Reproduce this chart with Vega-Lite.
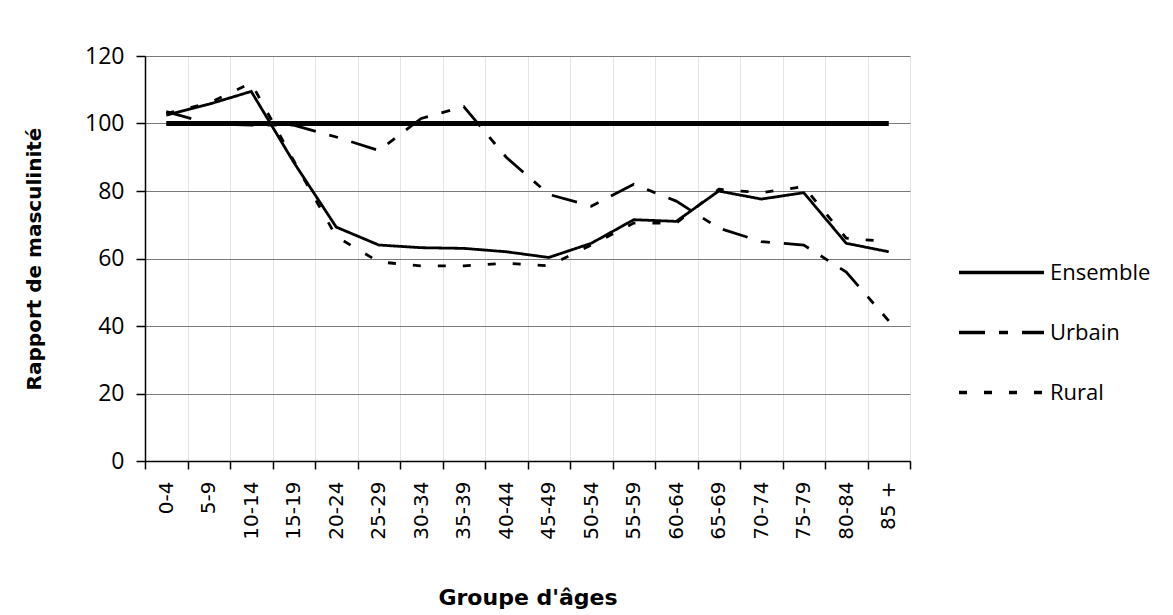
{
  "$schema": "https://vega.github.io/schema/vega-lite/v6.json",
  "width": 765,
  "height": 405,
  "autosize": {"type": "none"},
  "padding": {"left": 145, "top": 56, "right": 263, "bottom": 154},
  "background": "white",
  "config": {"view": {"stroke": null}, "font": "DejaVu Sans"},
  "datasets": {
    "ref": [
      {"age": "0-4", "value": 100}, {"age": "5-9", "value": 100}, {"age": "10-14", "value": 100},
      {"age": "15-19", "value": 100}, {"age": "20-24", "value": 100}, {"age": "25-29", "value": 100},
      {"age": "30-34", "value": 100}, {"age": "35-39", "value": 100}, {"age": "40-44", "value": 100},
      {"age": "45-49", "value": 100}, {"age": "50-54", "value": 100}, {"age": "55-59", "value": 100},
      {"age": "60-64", "value": 100}, {"age": "65-69", "value": 100}, {"age": "70-74", "value": 100},
      {"age": "75-79", "value": 100}, {"age": "80-84", "value": 100}, {"age": "85 +", "value": 100}
    ],
    "series": [
      {"age": "0-4", "serie": "Ensemble", "value": 102.5},
      {"age": "5-9", "serie": "Ensemble", "value": 105.7},
      {"age": "10-14", "serie": "Ensemble", "value": 109.5},
      {"age": "15-19", "serie": "Ensemble", "value": 88.5},
      {"age": "20-24", "serie": "Ensemble", "value": 69.3},
      {"age": "25-29", "serie": "Ensemble", "value": 64},
      {"age": "30-34", "serie": "Ensemble", "value": 63.2},
      {"age": "35-39", "serie": "Ensemble", "value": 63},
      {"age": "40-44", "serie": "Ensemble", "value": 62},
      {"age": "45-49", "serie": "Ensemble", "value": 60.3},
      {"age": "50-54", "serie": "Ensemble", "value": 64.5},
      {"age": "55-59", "serie": "Ensemble", "value": 71.5},
      {"age": "60-64", "serie": "Ensemble", "value": 71},
      {"age": "65-69", "serie": "Ensemble", "value": 80},
      {"age": "70-74", "serie": "Ensemble", "value": 77.6},
      {"age": "75-79", "serie": "Ensemble", "value": 79.5},
      {"age": "80-84", "serie": "Ensemble", "value": 64.5},
      {"age": "85 +", "serie": "Ensemble", "value": 62},
      {"age": "0-4", "serie": "Urbain", "value": 103.5},
      {"age": "5-9", "serie": "Urbain", "value": 100},
      {"age": "10-14", "serie": "Urbain", "value": 99.5},
      {"age": "15-19", "serie": "Urbain", "value": 99.5},
      {"age": "20-24", "serie": "Urbain", "value": 96},
      {"age": "25-29", "serie": "Urbain", "value": 92},
      {"age": "30-34", "serie": "Urbain", "value": 101.5},
      {"age": "35-39", "serie": "Urbain", "value": 105},
      {"age": "40-44", "serie": "Urbain", "value": 90},
      {"age": "45-49", "serie": "Urbain", "value": 79},
      {"age": "50-54", "serie": "Urbain", "value": 75.5},
      {"age": "55-59", "serie": "Urbain", "value": 82},
      {"age": "60-64", "serie": "Urbain", "value": 77},
      {"age": "65-69", "serie": "Urbain", "value": 69},
      {"age": "70-74", "serie": "Urbain", "value": 65},
      {"age": "75-79", "serie": "Urbain", "value": 64},
      {"age": "80-84", "serie": "Urbain", "value": 56},
      {"age": "85 +", "serie": "Urbain", "value": 41.5},
      {"age": "0-4", "serie": "Rural", "value": 103},
      {"age": "5-9", "serie": "Rural", "value": 106},
      {"age": "10-14", "serie": "Rural", "value": 112},
      {"age": "15-19", "serie": "Rural", "value": 89},
      {"age": "20-24", "serie": "Rural", "value": 66.5},
      {"age": "25-29", "serie": "Rural", "value": 59},
      {"age": "30-34", "serie": "Rural", "value": 57.8},
      {"age": "35-39", "serie": "Rural", "value": 57.8},
      {"age": "40-44", "serie": "Rural", "value": 58.6},
      {"age": "45-49", "serie": "Rural", "value": 57.8},
      {"age": "50-54", "serie": "Rural", "value": 64},
      {"age": "55-59", "serie": "Rural", "value": 70.5},
      {"age": "60-64", "serie": "Rural", "value": 70.5},
      {"age": "65-69", "serie": "Rural", "value": 80.5},
      {"age": "70-74", "serie": "Rural", "value": 79.5},
      {"age": "75-79", "serie": "Rural", "value": 81.3},
      {"age": "80-84", "serie": "Rural", "value": 66},
      {"age": "85 +", "serie": "Rural", "value": 65}
    ]
  },
  "encoding": {
    "x": {
      "field": "age",
      "type": "ordinal",
      "sort": ["0-4","5-9","10-14","15-19","20-24","25-29","30-34","35-39","40-44","45-49","50-54","55-59","60-64","65-69","70-74","75-79","80-84","85 +"],
      "scale": {"type": "band", "paddingInner": 0, "paddingOuter": 0},
      "axis": {
        "title": "Groupe d'âges",
        "titleFont": "DejaVu Sans",
        "titleFontWeight": "bold",
        "titleFontSize": 22,
        "titleColor": "black",
        "titlePadding": 48,
        "labelAngle": -90,
        "labelFont": "DejaVu Sans",
        "labelFontSize": 20,
        "labelColor": "black",
        "labelPadding": 12,
        "tickBand": "extent",
        "tickSize": 8,
        "tickColor": "black",
        "tickWidth": 1.5,
        "domainColor": "black",
        "domainWidth": 1.5,
        "grid": true,
        "gridColor": "#e3e3e3",
        "gridWidth": 1
      }
    },
    "y": {
      "field": "value",
      "type": "quantitative",
      "scale": {"domain": [0, 120], "nice": false},
      "axis": {
        "values": [0, 20, 40, 60, 80, 100, 120],
        "title": "Rapport de masculinité",
        "titleFont": "DejaVu Sans",
        "titleFontWeight": "bold",
        "titleFontSize": 20,
        "titleColor": "black",
        "titlePadding": 40,
        "labelFont": "Open Sans",
        "labelFontSize": 23,
        "labelColor": "black",
        "labelPadding": 12,
        "tickSize": 9,
        "tickColor": "black",
        "tickWidth": 1.5,
        "domainColor": "black",
        "domainWidth": 1.5,
        "grid": true,
        "gridColor": "#7a7a7a",
        "gridWidth": 1.2
      }
    }
  },
  "layer": [
    {
      "data": {"name": "ref"},
      "mark": {"type": "line", "color": "black", "strokeWidth": 5}
    },
    {
      "data": {"name": "series"},
      "mark": {"type": "line", "color": "black", "strokeWidth": 2.8},
      "encoding": {
        "strokeDash": {
          "field": "serie",
          "type": "nominal",
          "scale": {"domain": ["Ensemble", "Urbain", "Rural"], "range": [[1, 0], [26, 14, 9, 14], [8, 17]]},
          "legend": {
            "title": null,
            "orient": "none",
            "legendX": 812,
            "legendY": 172,
            "symbolType": "stroke",
            "symbolSize": 7225,
            "symbolStrokeWidth": 3.5,
            "symbolStrokeColor": "black",
            "labelFont": "Open Sans",
            "labelFontSize": 22,
            "labelColor": "black",
            "labelOffset": 4,
            "rowPadding": 4
          }
        }
      }
    }
  ]
}
